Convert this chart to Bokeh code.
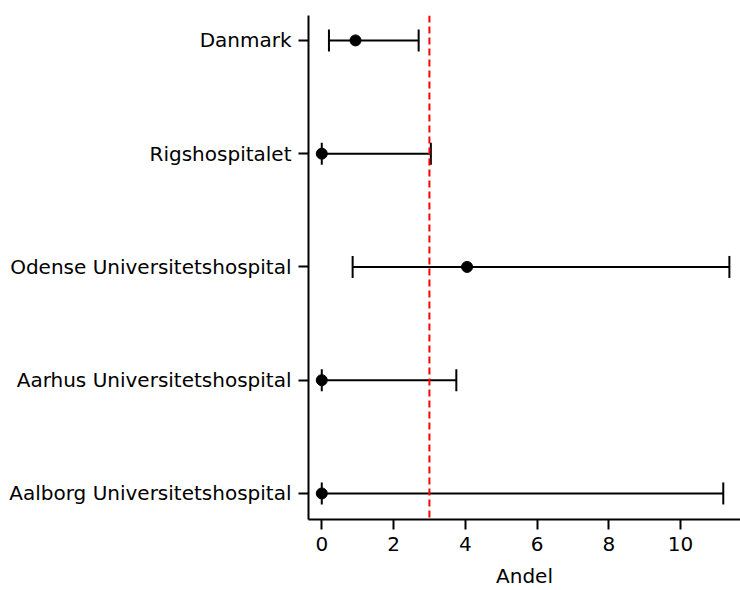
from bokeh.plotting import figure
from bokeh.models import ColumnDataSource, Whisker, TeeHead, Span, Range1d, FixedTicker
from bokeh.embed import file_html
from bokeh.resources import INLINE

# Data (top to bottom as shown)
categories = ["Danmark", "Rigshospitalet", "Odense Universitetshospital",
              "Aarhus Universitetshospital", "Aalborg Universitetshospital"]
estimate = [0.94, 0.0, 4.05, 0.0, 0.0]
lower = [0.20, 0.0, 0.86, 0.0, 0.0]
upper = [2.70, 3.04, 11.36, 3.75, 11.19]
reference_value = 3.0
x_ticks = [0, 2, 4, 6, 8, 10]

n = len(categories)
ypos = [n - 1 - i for i in range(n)]

src = ColumnDataSource(data=dict(y=ypos, est=estimate, lo=lower, hi=upper, name=categories))

FONT = "DejaVu Sans"
FS = "20px"

p = figure(width=740, height=590, output_backend="svg", toolbar_location=None,
           x_range=Range1d(-0.37, 11.67), y_range=Range1d(-0.23, n - 1 + 0.22),
           min_border_left=308, min_border_right=0, min_border_top=15, min_border_bottom=71)

p.outline_line_color = None
p.grid.visible = False
p.background_fill_color = "white"
p.border_fill_color = "white"

w = Whisker(base="y", lower="lo", upper="hi", dimension="width", source=src,
            line_color="black", line_width=2,
            upper_head=TeeHead(size=22, line_color="black", line_width=2),
            lower_head=TeeHead(size=22, line_color="black", line_width=2))
p.add_layout(w)

p.add_layout(Span(location=reference_value, dimension="height", line_color="red",
                  line_width=2, line_dash="7 4"))

p.scatter(x="est", y="y", source=src, size=11, color="black")

# Axes
p.xaxis.ticker = FixedTicker(ticks=x_ticks)
p.xaxis.axis_label = "Andel"
p.yaxis.ticker = FixedTicker(ticks=ypos)
p.yaxis.major_label_overrides = {y: c for y, c in zip(ypos, categories)}

for ax in (p.xaxis[0], p.yaxis[0]):
    ax.axis_line_width = 2
    ax.axis_line_color = "black"
    ax.major_tick_line_width = 2
    ax.major_tick_line_color = "black"
    ax.major_tick_out = 10
    ax.major_tick_in = 0
    ax.minor_tick_line_color = None
    ax.major_label_text_font = FONT
    ax.major_label_text_font_size = FS
    ax.major_label_text_color = "black"

p.xaxis.major_label_standoff = 7
p.yaxis.major_label_standoff = 7
p.xaxis.axis_label_text_font = FONT
p.xaxis.axis_label_text_font_size = FS
p.xaxis.axis_label_text_font_style = "normal"
p.xaxis.axis_label_text_color = "black"
p.xaxis.axis_label_standoff = 10

open("out.html", "w").write(file_html(p, INLINE))
